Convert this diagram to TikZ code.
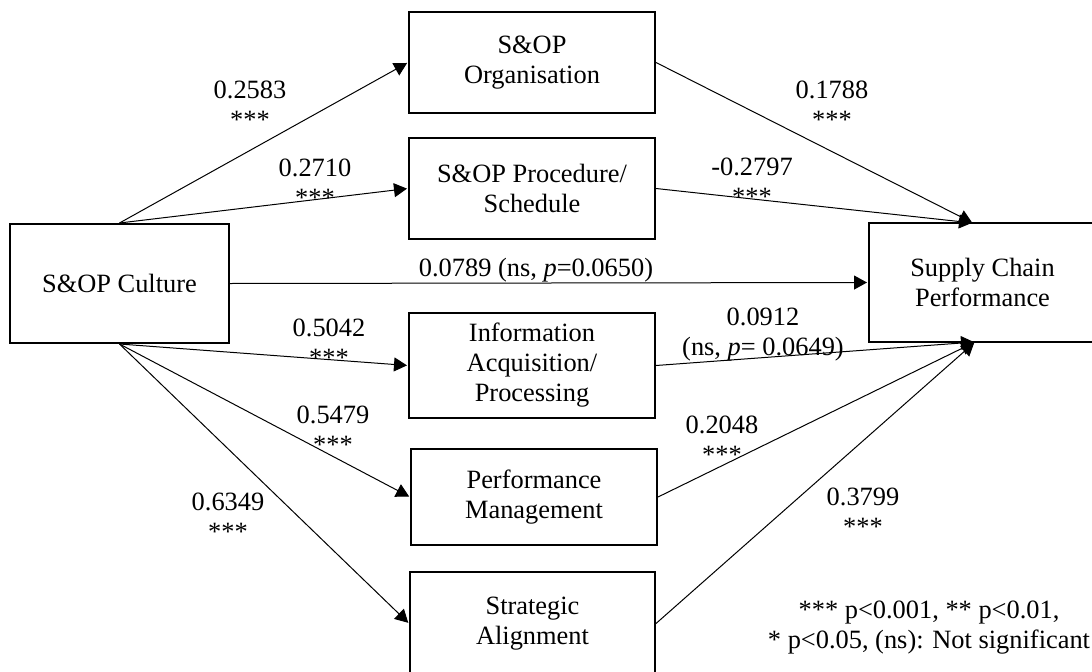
\documentclass[tikz,border=0pt]{standalone}
\usepackage{fontspec}
\setmainfont{Liberation Serif}
\usetikzlibrary{arrows.meta}
\newcommand{\figfont}{\fontsize{19.8}{22.5}\selectfont}
\begin{document}
\begin{tikzpicture}[x=0.75pt,y=-0.75pt,
  box/.style={draw, line width=1.5pt, align=center, inner sep=0pt, font=\figfont},
  lab/.style={align=center, inner sep=0pt, font=\figfont},
  arr/.style={line width=0.75pt, shorten >=0.75pt, -{Triangle[length=9.75pt,width=10.5pt]}}]
\path[use as bounding box, clip] (0,0) rectangle (1092,671);
\fill[white] (0,0) rectangle (1092,671);
% boxes
\node[box, minimum width=164.25pt, minimum height=89.25pt] (cul) at (119.5,283.5) {S\&OP Culture};
\node[box, minimum width=184.5pt, minimum height=75.75pt] (org) at (532,62.5) {S\&OP\\Organisation};
\node[box, minimum width=184.5pt, minimum height=75.75pt] (proc) at (532,188.5) {S\&OP Procedure/\\Schedule};
\node[box, minimum width=184.5pt, minimum height=78.75pt] (info) at (532,365.5) {Information\\Acquisition/\\Processing};
\node[box, minimum width=184.5pt, minimum height=72pt] (perf) at (534,497) {Performance\\Management};
\node[box, minimum width=183.75pt, minimum height=77.25pt] (strat) at (532.5,623.5) {Strategic\\Alignment};
\node[box, minimum width=170.25pt, minimum height=89.25pt] (sup) at (982.5,282.5) {Supply Chain\\Performance};
\coordinate (supT) at (973,223);
\coordinate (supB) at (975,342);
% connectors
\draw[arr] (cul.north) -- (org.west);
\draw[arr] (cul.north) -- (proc.west);
\draw[arr] (cul.east) -- (sup.west);
\draw[arr] (cul.south) -- (info.west);
\draw[arr] (cul.south) -- (perf.west);
\draw[arr] (cul.south) -- (strat.west);
\draw[arr] (org.east) -- (supT);
\draw[arr] (proc.east) -- (supT);
\draw[arr] (info.east) -- (supB);
\draw[arr] (perf.east) -- (supB);
\draw[arr] (strat.east) -- (supB);
% labels
\node[lab] (l1) at (250,105) {0.2583\\***};
\node[lab] (l2) at (315,183) {0.2710\\***};
\node[lab] (l3) at (536,270) {0.0789 (ns, \textit{p}=0.0650)};
\node[lab] (l4) at (329,343) {0.5042\\***};
\node[lab] (l5) at (333,430) {0.5479\\***};
\node[lab] (l6) at (228,517) {0.6349\\***};
\node[lab] (l7) at (832,105) {0.1788\\***};
\node[lab] (l8) at (752,182) {-0.2797\\***};
\node[lab] (l9) at (763,335) {0.0912\\(ns, \textit{p}= 0.0649)};
\node[lab] (l10) at (722,440) {0.2048\\***};
\node[lab] (l11) at (863,512) {0.3799\\***};
\node[lab] (leg) at (929,628) {*** p<0.001, ** p<0.01,\\* p<0.05, (ns): Not significant};
\end{tikzpicture}
\end{document}
